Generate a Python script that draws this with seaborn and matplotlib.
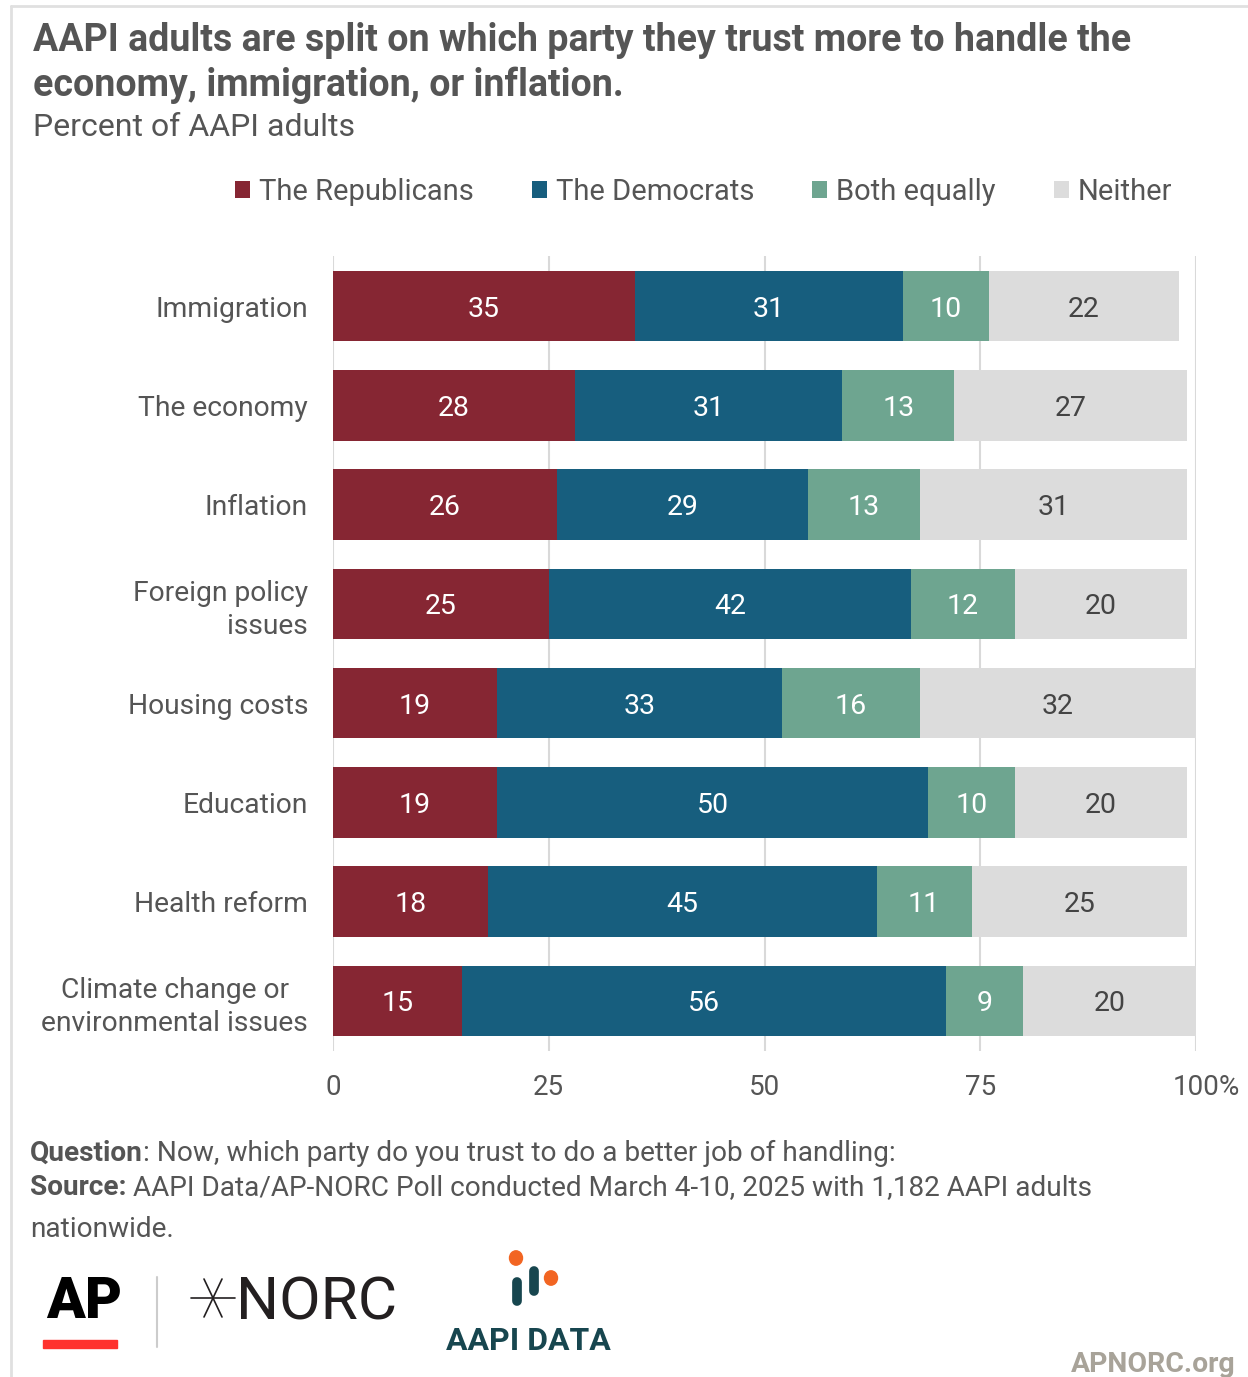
import matplotlib.pyplot as plt
import seaborn as sns
import numpy as np
from matplotlib.patches import Patch, Rectangle, Circle
from matplotlib.lines import Line2D

# Datos (porcentaje de adultos AAPI)
temas = ["Immigration", "The economy", "Inflation", "Foreign policy\nissues",
         "Housing costs", "Education", "Health reform",
         "Climate change or\nenvironmental issues"]
republicanos = [35, 28, 26, 25, 19, 19, 18, 15]
democratas = [31, 31, 29, 42, 33, 50, 45, 56]
ambos = [10, 13, 13, 12, 16, 10, 11, 9]
ninguno = [22, 27, 31, 20, 32, 20, 25, 20]
series = ["The Republicans", "The Democrats", "Both equally", "Neither"]
colores = ["#862633", "#175e7e", "#6ea590", "#dcdcdc"]
color_etiqueta = ["white", "white", "white", "#444444"]
ticks_x = [0, 25, 50, 75, 100]

sns.set_theme(style="white")
plt.rcParams["font.family"] = ["Roboto", "DejaVu Sans"]
GRIS = "#555555"

W, H = 1248, 1377
fig = plt.figure(figsize=(W / 100, H / 100), dpi=100)


def fx(px):
    return px / W


def fy(py):
    return 1 - py / H


ax = fig.add_axes([fx(333), fy(1050.6), fx(1196) - fx(333), (1050.6 - 256.4) / H])

valores = np.array([republicanos, democratas, ambos, ninguno])
acum = np.cumsum(valores, axis=0)

# barras apiladas: se dibuja de la suma total hacia la primera serie
for i in reversed(range(4)):
    sns.barplot(x=acum[i], y=temas, orient="h", color=colores[i], saturation=1,
                width=0.71, linewidth=0, ax=ax)

for i in range(4):
    inicio = acum[i] - valores[i]
    for j, v in enumerate(valores[i]):
        ax.text(inicio[j] + v / 2, j, str(v), ha="center", va="center_baseline",
                fontsize=20.5, color=color_etiqueta[i])

ax.set_xlim(0, 100)
ax.set_ylim(7.5, -0.5)
ax.set_xticks(ticks_x)
ax.set_xticklabels([str(t) for t in ticks_x])
ax.xaxis.grid(True, color="#d9d9d9", linewidth=1.5)
ax.set_axisbelow(True)
for s in ax.spines.values():
    s.set_visible(False)
ax.tick_params(axis="x", length=0, pad=17, labelsize=20, labelcolor=GRIS)
ax.tick_params(axis="y", length=0, pad=18, labelsize=20.3, labelcolor=GRIS)
ax.set_xlabel("")
ax.set_ylabel("")
for lbl in ax.get_yticklabels():
    lbl.set_linespacing(1.3)
    if lbl.get_text().startswith("Climate"):
        lbl.set_multialignment("center")
    else:
        lbl.set_multialignment("right")
ax.annotate("%", xy=(100, 0), xycoords=("data", "axes fraction"),
            xytext=(33, -37), textcoords="offset pixels", ha="center", va="center",
            fontsize=20, color=GRIS)

# leyenda
handles = [Patch(facecolor=c, edgecolor="none") for c in colores]
fig.legend(handles, series, loc="center", bbox_to_anchor=(fx(703.5), fy(192)), ncol=4,
           frameon=False, fontsize=21, labelcolor=GRIS, handlelength=0.52,
           handleheight=0.52, handletextpad=0.3, columnspacing=2.0)

# titulo
fig.text(fx(33), fy(51), "AAPI adults are split on which party they trust more to handle the",
         fontsize=27, fontweight="bold", color=GRIS, va="baseline")
fig.text(fx(33), fy(96), "economy, immigration, or inflation.",
         fontsize=27, fontweight="bold", color=GRIS, va="baseline")
fig.text(fx(33), fy(136), "Percent of AAPI adults", fontsize=23, color=GRIS, va="baseline")

# notas al pie con partes en negrita
rend = fig.canvas.get_renderer()


def mixto(x, y, negrita, resto):
    t = fig.text(fx(x), fy(y), negrita, fontsize=20.2, fontweight="bold", color=GRIS, va="baseline")
    bb = t.get_window_extent(renderer=rend)
    fig.text(bb.x1 / W, fy(y), resto, fontsize=20.2, color=GRIS, va="baseline")


mixto(30, 1161, "Question", ": Now, which party do you trust to do a better job of handling:")
mixto(30, 1195, "Source:", " AAPI Data/AP-NORC Poll conducted March 4-10, 2025 with 1,182 AAPI adults")
fig.text(fx(30), fy(1237), "nationwide.", fontsize=20.2, color=GRIS, va="baseline")

# logos aproximados
fig.text(fx(46), fy(1318), "AP", fontsize=41, fontweight="heavy", color="black", va="baseline")
fig.add_artist(Rectangle((fx(43), fy(1348)), fx(117) - fx(43), 8 / H, color="#ff322e",
                         transform=fig.transFigure))
fig.add_artist(Line2D([fx(157), fx(157)], [fy(1277), fy(1347)], color="#cccccc", lw=1.5))
cx, cy = 213, 1298
fig.add_artist(Line2D([fx(cx - 22), fx(cx + 22)], [fy(cy), fy(cy)], color="#231f20", lw=1.2))
for dx, dy in [(9, 19), (-9, 19)]:
    fig.add_artist(Line2D([fx(cx - dx), fx(cx + dx)], [fy(cy - dy), fy(cy + dy)],
                          color="#231f20", lw=1.2))
fig.text(fx(236), fy(1320), "NORC", fontsize=43.5, color="#231f20", va="baseline")
fig.text(fx(446), fy(1350), "AAPI DATA", fontsize=23, fontweight="bold", color="#17464f",
         va="baseline")
for (px, py) in [(516, 1258), (551, 1278)]:
    fig.add_artist(Circle((fx(px), fy(py)), 6.5 / W, color="#f26522", transform=fig.transFigure))
fig.add_artist(Line2D([fx(517), fx(517)], [fy(1282), fy(1301)], color="#17464f", lw=7,
                      solid_capstyle="round"))
fig.add_artist(Line2D([fx(534), fx(534)], [fy(1271), fy(1291)], color="#17464f", lw=7,
                      solid_capstyle="round"))
fig.text(fx(1236), fy(1372), "APNORC.org", fontsize=20.4, fontweight="bold", color="#a8a399",
         ha="right", va="baseline")

# marco gris
fig.add_artist(Line2D([fx(11), fx(11)], [fy(6), 0], color="#e0e0e0", lw=2))
fig.add_artist(Line2D([fx(11), 1], [fy(6), fy(6)], color="#e0e0e0", lw=2))

fig.savefig("out.png", dpi=100)
